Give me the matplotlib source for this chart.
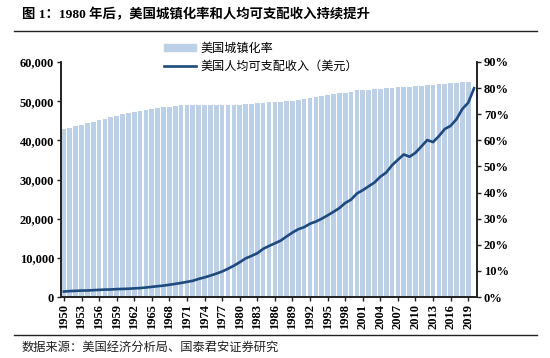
import numpy as np
import matplotlib
matplotlib.use("Agg")
import matplotlib.pyplot as plt
from matplotlib.ticker import FuncFormatter
from matplotlib.lines import Line2D

years = list(range(1950, 2021))

urban_rate = [64.2, 64.8, 65.4, 66.0, 66.6, 67.2, 67.7, 68.3, 68.9, 69.4,
              70.0, 70.4, 70.8, 71.1, 71.5, 71.9, 72.2, 72.6, 72.9, 73.3,
              73.6, 73.6, 73.6, 73.6, 73.6, 73.7, 73.7, 73.7, 73.7, 73.7,
              73.7, 73.9, 74.0, 74.2, 74.3, 74.5, 74.7, 74.8, 75.0, 75.1,
              75.3, 75.7, 76.1, 76.5, 76.9, 77.3, 77.6, 78.0, 78.3, 78.7,
              79.1, 79.2, 79.4, 79.6, 79.8, 79.9, 80.1, 80.3, 80.4, 80.6,
              80.8, 80.9, 81.1, 81.3, 81.5, 81.7, 81.9, 82.1, 82.3, 82.5,
              np.nan]

income = [1390, 1510, 1570, 1640, 1660, 1740, 1820, 1890, 1920, 2010,
          2060, 2110, 2200, 2280, 2430, 2590, 2760, 2910, 3130, 3350,
          3590, 3860, 4140, 4620, 5010, 5470, 5960, 6510, 7220, 7990,
          8870, 9850, 10480, 11170, 12290, 13030, 13700, 14400, 15460, 16450,
          17310, 17830, 18710, 19250, 19990, 20840, 21740, 22690, 23990, 24850,
          26420, 27270, 28260, 29230, 30720, 31770, 33640, 35040, 36390, 35810,
          36830, 38430, 40070, 39550, 41080, 42900, 43700, 45400, 48000, 49600,
          53300]

tick_years = list(range(1950, 2020, 3))
left_ticks = [0, 10000, 20000, 30000, 40000, 50000, 60000]
right_ticks = [0, 10, 20, 30, 40, 50, 60, 70, 80, 90]

title = "图 1：1980 年后，美国城镇化率和人均可支配收入持续提升"
source = "数据来源：美国经济分析局、国泰君安证券研究"
label_bar = "美国城镇化率"
label_line = "美国人均可支配收入（美元）"

bar_color = "#BCD0E8"
line_color = "#1F4A7E"
serif = ["Liberation Serif", "Noto Sans CJK SC"]
cjk = ["Noto Sans CJK SC", "DejaVu Sans"]

fig = plt.figure(figsize=(5.5, 3.58), dpi=100)
L, R, B, T = 61/550, 477/550, 1-297/358, 1-62/358
ax = fig.add_axes([L, B, R-L, T-B])
ax2 = ax.twinx()

ax2.bar(years, urban_rate, width=0.8, color=bar_color, zorder=1)
ax.plot(years, income, color=line_color, lw=1.9, zorder=3)
ax.set_zorder(ax2.get_zorder() + 1)
ax.patch.set_visible(False)

ax.set_xlim(1949.5, 2020.5)
ax.set_ylim(0, 60000)
ax2.set_ylim(0, 90)
ax.set_yticks(left_ticks)
ax2.set_yticks(right_ticks)
ax.yaxis.set_major_formatter(FuncFormatter(lambda v, p: f"{int(v):,}"))
ax2.yaxis.set_major_formatter(FuncFormatter(lambda v, p: f"{int(v)}%"))
ax.set_xticks(tick_years)
ax.set_xticklabels([str(y) for y in tick_years], rotation=90)

for a in (ax, ax2):
    a.spines["top"].set_visible(False)
    for s in ("left", "right", "bottom"):
        a.spines[s].set_linewidth(1.2)
        a.spines[s].set_color("#222222")
    a.tick_params(length=3, width=1, color="#222222")
for lab in ax.get_xticklabels() + ax.get_yticklabels() + ax2.get_yticklabels():
    lab.set_fontfamily(serif)
    lab.set_fontweight("bold")
    lab.set_fontsize(9)
ax.tick_params(axis="x", pad=2)
ax.tick_params(axis="y", pad=2)
ax2.tick_params(axis="y", pad=2)

handles = [plt.Rectangle((0, 0), 1, 1, color=bar_color),
           Line2D([0], [0], color=line_color, lw=1.9)]
fig.legend(handles, [label_bar, label_line], loc="upper left",
           bbox_to_anchor=(156/550, 1-33/358), frameon=False,
           prop={"family": cjk, "size": 8.7}, handlelength=2.6,
           handleheight=0.55, labelspacing=0.45, handletextpad=0.35,
           borderpad=0.2)

fig.text(22/550, 1-14/358, title, ha="left", va="center",
         fontsize=9.6, fontweight="bold", family=serif)
fig.add_artist(Line2D([14/550, 537/550], [1-31/358, 1-31/358],
                      color="#222222", lw=1.0))
fig.add_artist(Line2D([14/550, 537/550], [1-335/358, 1-335/358],
                      color="#222222", lw=1.0))
fig.text(22/550, 1-347/358, source, ha="left", va="center",
         fontsize=8.8, family=cjk, color="#222222")

fig.savefig("out.png", dpi=100)
